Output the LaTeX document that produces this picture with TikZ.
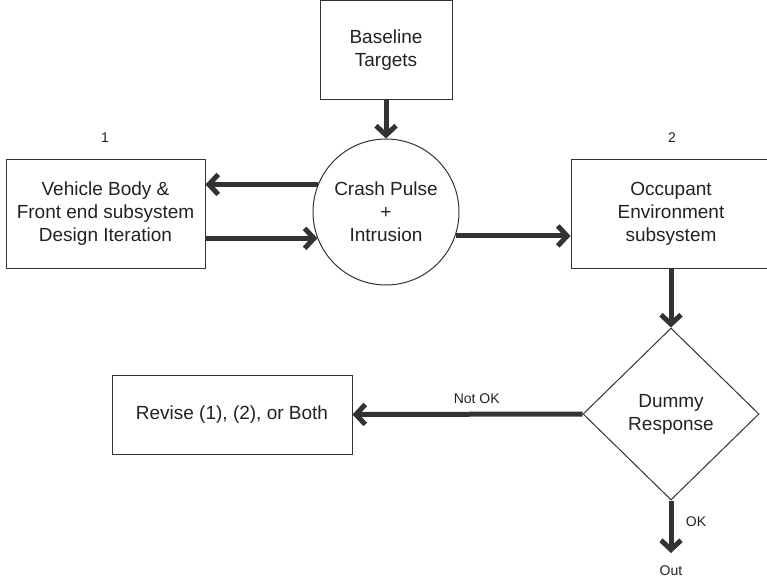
\documentclass[tikz,border=0pt]{standalone}
\usepackage{fontspec}
\setmainfont{Liberation Sans}
\usetikzlibrary{arrows.meta,shapes.geometric}
\definecolor{ink}{HTML}{333333}
\definecolor{txt}{HTML}{222222}
\begin{document}
\begin{tikzpicture}[x=0.75pt,y=-0.75pt,
  blockfont/.style={font=\fontsize{14.25}{17.25}\selectfont, text=txt},
  box/.style={draw=ink, line width=0.75pt, fill=white, align=center, inner sep=0pt, blockfont},
  roundbox/.style={box, circle},
  decide/.style={box, diamond},
  flow/.style={draw=ink, line width=3.75pt, -{Straight Barb[length=7pt,width=15pt]}},
  tag/.style={font=\fontsize{10.5}{12.6}\selectfont, text=txt}]
\useasboundingbox (0,0) rectangle (767,581);

% process blocks
\node[box, minimum width=99pt, minimum height=74.25pt] (base) at (386,50.5) {Baseline\\Targets};
\node[roundbox, minimum size=109.5pt] (pulse) at (386,212) {Crash Pulse\\+\\Intrusion};
\node[box, minimum width=149.25pt, minimum height=81pt] (body) at (105.5,214) {Vehicle Body \&\\Front end subsystem\\Design Iteration};
\node[box, minimum width=150pt, minimum height=81pt] (occ) at (671,214) {Occupant\\Environment\\subsystem};
\node[decide, minimum width=132pt, minimum height=129pt] (dummy) at (671,414) {Dummy\\Response};
\node[box, minimum width=180pt, minimum height=59.25pt] (revise) at (232,414.5) {Revise (1), (2), or Both};

% block numbers
\node[tag] (n1) at (105,138) {1};
\node[tag] (n2) at (672,138) {2};

% exit
\coordinate (exit) at (671,553);
\node[tag] (outtxt) at (671,571) {Out};

% connectors
\draw[flow] (base.south) -- (pulse.north);
\draw[flow] (pulse.158) -- (pulse.158 -| body.east);
\draw[flow] (body.east |- pulse.201) -- (pulse.201);
\draw[flow] (pulse.-19) -- (pulse.-19 -| occ.west);
\draw[flow] (occ.south) -- (dummy.north);
\draw[flow] (dummy.west) -- node[tag, pos=0.46, above=3pt] {Not OK} (revise.east);
\draw[flow] (dummy.south) -- node[tag, pos=0.4, right=6pt] {OK} (exit);
\end{tikzpicture}
\end{document}
